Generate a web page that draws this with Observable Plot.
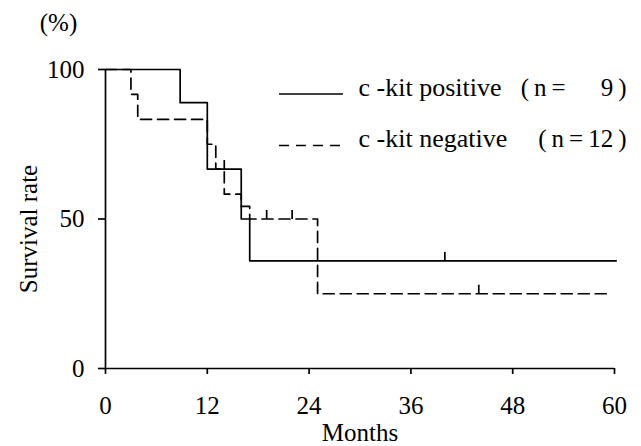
<!DOCTYPE html>
<html><head><meta charset="utf-8">
<script src="https://cdn.jsdelivr.net/npm/d3@7"></script>
<script src="https://cdn.jsdelivr.net/npm/@observablehq/plot@0.6"></script>
<style>body{margin:0;background:#fff;}</style>
</head><body><div id="chart"></div>
<script>
// Kaplan-Meier curves
const posMonths = [0, 8.8, 12, 16, 17, 60.2];
const posSurv   = [100, 88.9, 66.7, 50, 36, 36];
const posCensorMonths = [40];
const posCensorSurv   = [36];
const negMonths = [0, 3, 3.8, 12, 13, 14, 16, 17, 25, 59.7];
const negSurv   = [100, 91.7, 83.3, 75, 66.7, 58.3, 54.2, 50, 25, 25];
const negCensorMonths = [14, 19, 22, 44];
const negCensorSurv   = [66.7, 50, 50, 25];
const xTicks = [0, 12, 24, 36, 48, 60];
const yTicks = [0, 50, 100];
const legendLabels = ["c -kit positive", "c -kit negative"];
const legendCounts = ["(\u2009n\u2009=\u2009\u2007\u2007\u20099\u2009)", "(\u2009n\u2009=\u200912\u2009)"];
const xLabel = "Months";
const yLabel = "Survival rate";
const yUnit = "(%)";

const pos = posMonths.map((m, i) => ({month: m, surv: posSurv[i]}));
const neg = negMonths.map((m, i) => ({month: m, surv: negSurv[i]}));
const posC = posCensorMonths.map((m, i) => ({month: m, surv: posCensorSurv[i]}));
const negC = negCensorMonths.map((m, i) => ({month: m, surv: negCensorSurv[i]}));

const censorSymbol = {draw(ctx) { ctx.moveTo(0, 0); ctx.lineTo(0, -9); }};
const SW = 1.7;
const DASH = "11,6";
const ROW_GAP = 51.5;

function legendLines(index, scales, values, dims) {
  const g = d3.create("svg:g").attr("stroke", "black").attr("stroke-width", SW);
  const x0 = dims.marginLeft + 174, x1 = dims.marginLeft + 238;
  const y0 = dims.marginTop + 25;
  g.append("line").attr("x1", x0).attr("x2", x1).attr("y1", y0).attr("y2", y0);
  g.append("line").attr("x1", x0).attr("x2", x1).attr("y1", y0 + ROW_GAP).attr("y2", y0 + ROW_GAP)
    .attr("stroke-dasharray", "10,7");
  return g.node();
}

const font = {textAnchor: "start", lineAnchor: "middle", fontSize: 26};

const plot = Plot.plot({
  width: 641,
  height: 446,
  marginLeft: 105,
  marginRight: 27,
  marginTop: 69,
  marginBottom: 78,
  style: {fontFamily: "'Liberation Serif', 'Times New Roman', serif", fontSize: "25px", color: "black", background: "white"},
  x: {domain: [0, 60]},
  y: {domain: [0, 100]},
  marks: [
    Plot.axisX({ticks: xTicks, tickSize: 6, tickPadding: 22, label: null, strokeWidth: SW, fontSize: 25}),
    Plot.axisY({ticks: yTicks, tickSize: 7, tickPadding: 14, label: null, strokeWidth: SW, fontSize: 25}),
    Plot.ruleX([0], {stroke: "black", strokeWidth: SW}),
    Plot.ruleY([0], {stroke: "black", strokeWidth: SW}),
    Plot.line(pos, {x: "month", y: "surv", curve: "step-after", stroke: "black", strokeWidth: SW}),
    Plot.line(neg, {x: "month", y: "surv", curve: "step-after", stroke: "black", strokeWidth: SW, strokeDasharray: DASH}),
    Plot.dot(posC, {x: "month", y: "surv", symbol: censorSymbol, stroke: "black", fill: "none", strokeWidth: SW}),
    Plot.dot(negC, {x: "month", y: "surv", symbol: censorSymbol, stroke: "black", fill: "none", strokeWidth: SW}),
    Plot.text([xLabel], {frameAnchor: "bottom", dy: 64, textAnchor: "middle", lineAnchor: "middle", fontSize: 25}),
    Plot.text([yLabel], {frameAnchor: "left", dx: -77, dy: 10, rotate: -90, textAnchor: "middle", lineAnchor: "middle", fontSize: 25}),
    Plot.text([yUnit], {frameAnchor: "top-left", dx: -47, dy: -47, textAnchor: "middle", lineAnchor: "middle", fontSize: 25}),
    Plot.text([legendLabels[0]], {...font, frameAnchor: "top-left", dx: 253, dy: 18}),
    Plot.text([legendLabels[1]], {...font, frameAnchor: "top-left", dx: 253, dy: 18 + ROW_GAP}),
    Plot.text([legendCounts[0]], {...font, fontSize: 25, textAnchor: "end", frameAnchor: "top-left", dx: 521, dy: 18}),
    Plot.text([legendCounts[1]], {...font, fontSize: 25, textAnchor: "end", frameAnchor: "top-left", dx: 521, dy: 18 + ROW_GAP}),
    legendLines
  ]
});
document.getElementById("chart").appendChild(plot);
</script></body></html>
